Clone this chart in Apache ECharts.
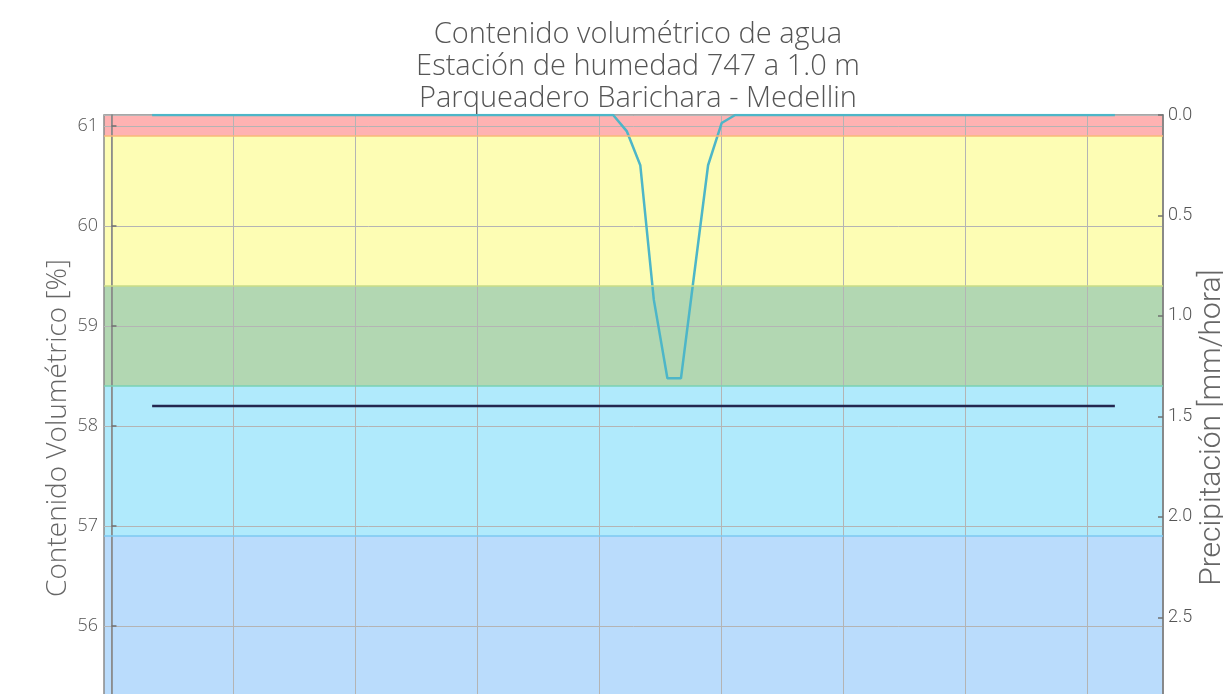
<!DOCTYPE html>
<html>
<head>
<meta charset="utf-8">
<title>Contenido volumétrico de agua</title>
<script src="https://cdn.jsdelivr.net/npm/echarts@6/dist/echarts.min.js"></script>
<style>
  html, body { margin: 0; padding: 0; background: #fff; overflow: hidden; }
  #chart { width: 1223px; height: 694px; }
</style>
</head>
<body>
<div id="chart"></div>
<script>
// hora de cada lectura (cada 20 min)
const times = [
  '01:00','01:20','01:40','02:00','02:20','02:40','03:00','03:20','03:40','04:00','04:20','04:40',
  '05:00','05:20','05:40','06:00','06:20','06:40','07:00','07:20','07:40','08:00','08:20','08:40',
  '09:00','09:20','09:40','10:00','10:20','10:40','11:00','11:20','11:40','12:00','12:20','12:40',
  '13:00','13:20','13:40','14:00','14:20','14:40','15:00','15:20','15:40','16:00','16:20','16:40',
  '17:00','17:20','17:40','18:00','18:20','18:40','19:00','19:20','19:40','20:00','20:20','20:40',
  '21:00','21:20','21:40','22:00','22:20','22:40','23:00','23:20','23:40','00:00','00:20','00:40'
]

// contenido volumétrico [%]
const humedad = [
  58.2,58.2,58.2,58.2,58.2,58.2,58.2,58.2,58.2,58.2,58.2,58.2,
  58.2,58.2,58.2,58.2,58.2,58.2,58.2,58.2,58.2,58.2,58.2,58.2,
  58.2,58.2,58.2,58.2,58.2,58.2,58.2,58.2,58.2,58.2,58.2,58.2,
  58.2,58.2,58.2,58.2,58.2,58.2,58.2,58.2,58.2,58.2,58.2,58.2,
  58.2,58.2,58.2,58.2,58.2,58.2,58.2,58.2,58.2,58.2,58.2,58.2,
  58.2,58.2,58.2,58.2,58.2,58.2,58.2,58.2,58.2,58.2,58.2,58.2
]

// precipitación [mm/hora]
const precipitacion = [
  0,0,0,0,0,0,0,0,0,0,0,0,
  0,0,0,0,0,0,0,0,0,0,0,0,
  0,0,0,0,0,0,0,0,0,0,0,0.08,
  0.25,0.92,1.31,1.31,0.78,0.25,0.04,0,0,0,0,0,
  0,0,0,0,0,0,0,0,0,0,0,0,
  0,0,0,0,0,0,0,0,0,0,0,0
]

// umbrales de las franjas de humedad [%]
const umbrales = [55, 56.9, 58.4, 59.4, 60.9, 61.11]

// marcas del eje x (minutos desde medianoche)
const xTicks = [0, 180, 360, 540, 720, 900, 1080, 1260, 1440]

const bandFill = ['#badcfc', '#b0eafc', '#b2d7b2', '#fdfdb4', '#ffb2b2']
const bandEdge = ['#7cc8f2', '#78d2b4', '#c8dc86', '#f8b878']

function toMinutes(list) {
  let prev = -1
  let offset = 0
  return list.map(t => {
    const [h, m] = t.split(':').map(Number)
    let v = h * 60 + m + offset
    if (v < prev) { offset += 1440; v += 1440 }
    prev = v
    return v
  })
}

const xs = toMinutes(times)
const humSeries = xs.map((x, i) => [x, humedad[i]])
const rainSeries = xs.map((x, i) => [x, precipitacion[i]])

const areas = []
for (let i = 0; i < umbrales.length - 1; i++) {
  areas.push([
    { yAxis: umbrales[i], itemStyle: { color: bandFill[i] } },
    { yAxis: umbrales[i + 1] },
  ])
}
const edges = []
for (let i = 1; i < umbrales.length - 1; i++) {
  edges.push({ yAxis: umbrales[i], lineStyle: { color: bandEdge[i - 1] } })
}

const chart = echarts.init(document.getElementById('chart'))

chart.setOption({
  animation: false,
  title: {
    text: 'Contenido volumétrico de agua\nEstación de humedad 747 a 1.0 m\nParqueadero Barichara - Medellin',
    left: 633,
    textAlign: 'center',
    top: 14,
    textStyle: {
      fontFamily: 'Open Sans',
      fontWeight: 300,
      fontSize: 29,
      lineHeight: 32,
      color: '#555',
    },
  },
  grid: {
    left: 104,
    right: 60,
    top: 115,
    height: 611,
    outerBoundsMode: 'none',
    containLabel: false,
    show: true,
    z: 3,
    borderColor: '#8a8a8a',
    borderWidth: 1.5,
    backgroundColor: 'transparent',
  },
  xAxis: {
    type: 'value',
    min: -11,
    max: 1551,
    z: 3,
    axisLine: { show: false },
    axisTick: { show: false, customValues: xTicks },
    axisLabel: { show: false, customValues: xTicks },
    splitLine: { show: true, lineStyle: { color: '#b4b4b4', width: 1 } },
  },
  yAxis: [
    {
      type: 'value',
      min: 55,
      max: 61.11,
      interval: 1,
      z: 3,
      name: 'Contenido Volumétrico [%]',
      nameLocation: 'middle',
      nameGap: 32,
      nameMoveOverlap: false,
      nameTextStyle: {
        fontFamily: 'Open Sans', fontWeight: 300, fontSize: 28, color: '#666',
        padding: [0, 15, 0, 0],
      },
      axisLine: { show: true, lineStyle: { color: '#808080', width: 1.5 } },
      axisTick: { show: true, inside: true, length: 5, lineStyle: { color: '#707070', width: 1.5 } },
      axisLabel: {
        fontFamily: 'Open Sans', fontWeight: 300, fontSize: 18, color: '#555', margin: 6,
        showMaxLabel: false,
      },
      splitLine: { show: true, lineStyle: { color: '#b4b4b4', width: 1 } },
    },
    {
      type: 'value',
      min: 0,
      max: 3.04,
      interval: 0.5,
      inverse: true,
      position: 'right',
      z: 3,
      name: 'Precipitación [mm/hora]',
      nameLocation: 'middle',
      nameGap: 34,
      nameMoveOverlap: false,
      nameTextStyle: {
        fontFamily: 'Roboto', fontWeight: 300, fontSize: 30, color: '#666',
        padding: [0, 14, 0, 0],
      },
      axisLine: { show: true, lineStyle: { color: '#808080', width: 1.5 } },
      axisTick: { show: true, inside: true, length: 5, lineStyle: { color: '#707070', width: 1.5 } },
      axisLabel: {
        fontFamily: 'Roboto', fontWeight: 300, fontSize: 18, color: '#555', margin: 5,
        showMaxLabel: false,
        formatter: v => v.toFixed(1),
      },
      splitLine: { show: false },
    },
  ],
  series: [
    {
      name: 'Humedad',
      type: 'line',
      yAxisIndex: 0,
      z: 4,
      data: humSeries,
      symbol: 'none',
      lineStyle: { color: '#23274f', width: 2.5 },
      markArea: {
        silent: true,
        data: areas,
      },
      markLine: {
        silent: true,
        symbol: 'none',
        label: { show: false },
        lineStyle: { type: 'solid', width: 1.5 },
        data: edges,
      },
    },
    {
      name: 'Precipitación',
      type: 'line',
      yAxisIndex: 1,
      z: 4,
      data: rainSeries,
      symbol: 'none',
      lineStyle: { color: '#4db6c8', width: 2.5 },
    },
  ],
})
</script>
</body>
</html>
